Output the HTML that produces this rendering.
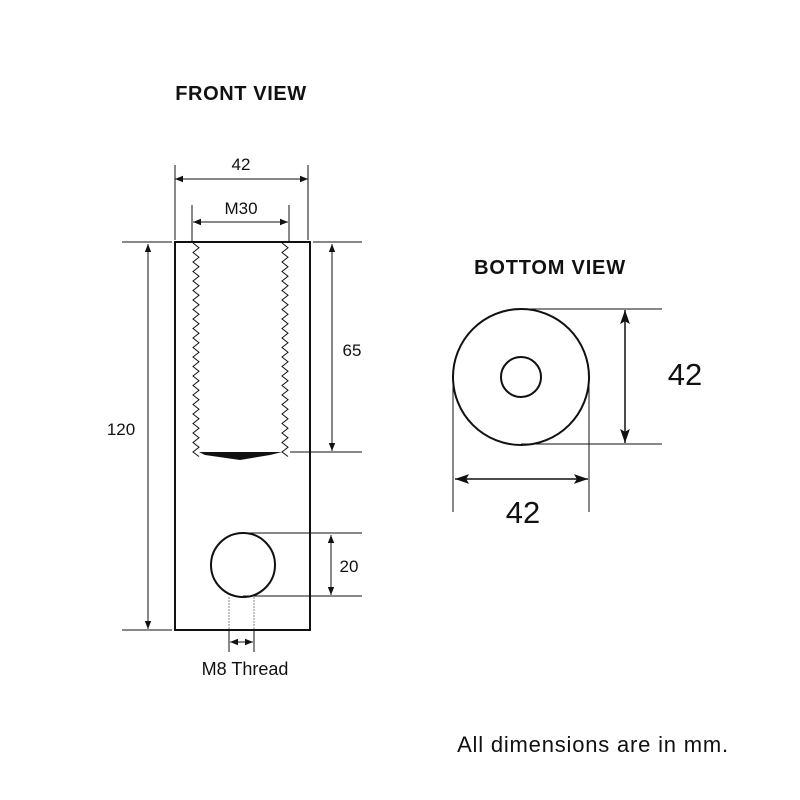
<!DOCTYPE html>
<html><head><style>
body{margin:0;background:#fff}
svg{display:block}
text{font-family:"Liberation Sans",Arial,sans-serif;fill:#111}
</style></head><body>
<svg width="800" height="800" viewBox="0 0 800 800" xmlns="http://www.w3.org/2000/svg">
<defs>
<marker id="a" viewBox="0 0 10 10" refX="10" refY="5" markerWidth="8" markerHeight="8" orient="auto-start-reverse" markerUnits="userSpaceOnUse"><path d="M0,1 L10,5 L0,9 Z" fill="#111"/></marker>
<marker id="b" viewBox="0 0 10 10" refX="10" refY="5" markerWidth="14" markerHeight="14" orient="auto-start-reverse" markerUnits="userSpaceOnUse"><path d="M0,1.5 L10,5 L0,8.5 L2,5 Z" fill="#111"/></marker>
</defs>
<text x="241" y="100" font-size="20" font-weight="bold" letter-spacing="0.6" text-anchor="middle">FRONT VIEW</text>
<text x="550" y="274" font-size="20" font-weight="bold" letter-spacing="0.8" text-anchor="middle">BOTTOM VIEW</text>
<g stroke="#111" fill="none" stroke-width="1">
<rect x="175" y="242" width="135" height="388" stroke-width="2"/>
<line x1="175" y1="165" x2="175" y2="240"/><line x1="308" y1="165" x2="308" y2="240"/>
<line x1="175" y1="179" x2="308" y2="179" marker-start="url(#a)" marker-end="url(#a)"/>
<line x1="192" y1="205" x2="192" y2="242"/><line x1="289" y1="205" x2="289" y2="242"/>
<line x1="193" y1="222" x2="288" y2="222" marker-start="url(#a)" marker-end="url(#a)"/>
<line x1="122" y1="242" x2="172" y2="242"/><line x1="122" y1="630" x2="172" y2="630"/>
<line x1="148" y1="244" x2="148" y2="629" marker-start="url(#a)" marker-end="url(#a)"/>
<line x1="313" y1="242" x2="362" y2="242"/><line x1="290" y1="452" x2="362" y2="452"/>
<line x1="332" y1="244" x2="332" y2="451" marker-start="url(#a)" marker-end="url(#a)"/>
<line x1="243" y1="533" x2="362" y2="533"/><line x1="243" y1="596" x2="362" y2="596"/>
<line x1="331" y1="535" x2="331" y2="595" marker-start="url(#a)" marker-end="url(#a)"/>
<path id="z" d="M193,243 l6,4.75 l-6,4.75 l6,4.75 l-6,4.75 l6,4.75 l-6,4.75 l6,4.75 l-6,4.75 l6,4.75 l-6,4.75 l6,4.75 l-6,4.75 l6,4.75 l-6,4.75 l6,4.75 l-6,4.75 l6,4.75 l-6,4.75 l6,4.75 l-6,4.75 l6,4.75 l-6,4.75 l6,4.75 l-6,4.75 l6,4.75 l-6,4.75 l6,4.75 l-6,4.75 l6,4.75 l-6,4.75 l6,4.75 l-6,4.75 l6,4.75 l-6,4.75 l6,4.75 l-6,4.75 l6,4.75 l-6,4.75 l6,4.75 l-6,4.75 l6,4.75 l-6,4.75 l6,4.75 l-6,4.75 l6,4.5"/>
<use href="#z" transform="translate(89,0)"/>
<circle cx="243" cy="565" r="32" stroke-width="2"/>
<line x1="229" y1="597" x2="229" y2="630" stroke="#888" stroke-dasharray="2,1"/>
<line x1="254" y1="597" x2="254" y2="630" stroke="#888" stroke-dasharray="2,1"/>
<line x1="229" y1="630" x2="229" y2="652"/><line x1="254" y1="630" x2="254" y2="652"/>
<line x1="230" y1="642" x2="253" y2="642" marker-start="url(#a)" marker-end="url(#a)"/>
<circle cx="521" cy="377" r="68" stroke-width="2"/>
<circle cx="521" cy="377" r="20" stroke-width="2"/>
<line x1="521" y1="309" x2="662" y2="309"/><line x1="521" y1="444" x2="662" y2="444"/>
<line x1="625" y1="310" x2="625" y2="443" stroke-width="1.5" marker-start="url(#b)" marker-end="url(#b)"/>
<line x1="453" y1="377" x2="453" y2="512"/><line x1="589" y1="377" x2="589" y2="512"/>
<line x1="455" y1="479" x2="588" y2="479" stroke-width="1.5" marker-start="url(#b)" marker-end="url(#b)"/>
</g>
<path d="M199,452 L282,452 L270,455 L240,460 L205,455 Z" fill="#111"/>
<text x="241" y="170" font-size="17" text-anchor="middle">42</text>
<text x="241" y="214" font-size="17" text-anchor="middle">M30</text>
<text x="121" y="435" font-size="17" text-anchor="middle">120</text>
<text x="352" y="356" font-size="17" text-anchor="middle">65</text>
<text x="349" y="572" font-size="17" text-anchor="middle">20</text>
<text x="245" y="675" font-size="18" text-anchor="middle">M8 Thread</text>
<text x="685" y="385" font-size="31" text-anchor="middle">42</text>
<text x="523" y="523" font-size="31" text-anchor="middle">42</text>
<text x="593" y="752" font-size="22" letter-spacing="0.8" text-anchor="middle">All dimensions are in mm.</text>
</svg>
</body></html>
